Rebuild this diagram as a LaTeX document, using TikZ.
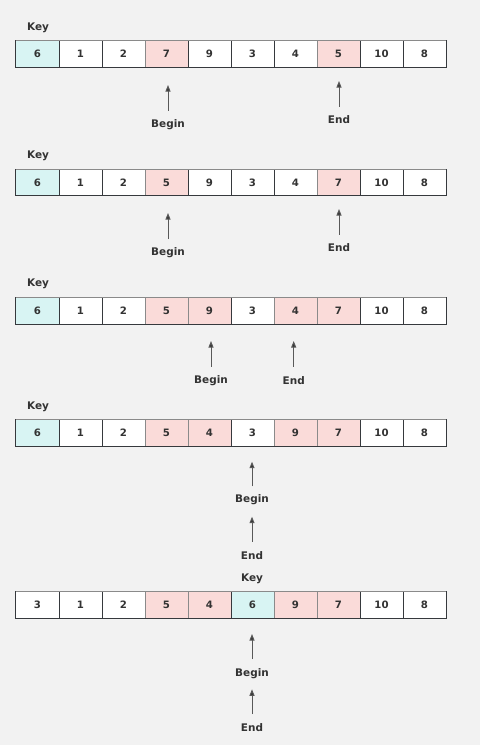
\documentclass[tikz,border=0pt]{standalone}
\usepackage{fontspec}
\setmainfont{DejaVu Sans}
\usetikzlibrary{arrows.meta}
\definecolor{bg}{HTML}{F2F2F2}
\definecolor{cyanf}{HTML}{D8F4F3}
\definecolor{pinkf}{HTML}{FADBD9}
\definecolor{ink}{HTML}{333333}
\definecolor{edge}{HTML}{36393D}
\definecolor{soft}{HTML}{8A8A8A}
\tikzset{
  cellbase/.style={minimum width=43bp,minimum height=26.7bp,inner sep=0pt,outer sep=0pt,line width=1bp,text=ink,font=\bfseries\fontsize{10.2}{12}\selectfont},
  cellw/.style={cellbase,draw=edge,fill=white},
  cellk/.style={cellbase,draw=edge,fill=cyanf},
  cellp/.style={cellbase,draw=soft,fill=pinkf},
  lbl/.style={text=ink,inner sep=0pt,font=\bfseries\fontsize{10.5}{12}\selectfont},
  ptr/.style={draw=black!65,line width=1bp,-{Triangle[length=6.5bp,width=5bp,fill=ink]}}
}
\newcommand\cellrow[3]{%
  \foreach \v/\s [count=\i from 0] in {#3} {
    \node[cell\s] (#1-\i) at ({37.5+43*\i},#2) {\v};
  }
  \draw[soft,line width=1bp] (#1-0.north west) -- (#1-9.north east);
  \draw[edge,line width=1bp] (#1-0.south west) -- (#1-9.south east);
}
\begin{document}
\begin{tikzpicture}[x=1bp,y=-1bp]
\fill[bg] (0,0) rectangle (480,745);
\useasboundingbox (0,0) rectangle (480,745);

% Row 1
\cellrow{a}{54}{6/k,1/w,2/w,7/p,9/w,3/w,4/w,5/p,10/w,8/w}
\node[lbl] (a-key) at (38,28) {Key};
\coordinate (a-bt) at (168,85); \coordinate (a-bs) at (168,110.7);
\node[lbl] (a-b) at (168,125) {Begin};
\draw[ptr] (a-bs) -- (a-bt);
\coordinate (a-et) at (339,81); \coordinate (a-es) at (339,106.7);
\node[lbl] (a-e) at (339,120) {End};
\draw[ptr] (a-es) -- (a-et);

% Row 2
\cellrow{b}{182.5}{6/k,1/w,2/w,5/p,9/w,3/w,4/w,7/p,10/w,8/w}
\node[lbl] (b-key) at (38,156) {Key};
\coordinate (b-bt) at (168,213); \coordinate (b-bs) at (168,239);
\node[lbl] (b-b) at (168,252.7) {Begin};
\draw[ptr] (b-bs) -- (b-bt);
\coordinate (b-et) at (339,209); \coordinate (b-es) at (339,234.7);
\node[lbl] (b-e) at (339,247.7) {End};
\draw[ptr] (b-es) -- (b-et);

% Row 3
\cellrow{c}{310.7}{6/k,1/w,2/w,5/p,9/p,3/w,4/p,7/p,10/w,8/w}
\node[lbl] (c-key) at (38,284.3) {Key};
\coordinate (c-bt) at (211,341); \coordinate (c-bs) at (211,366.7);
\node[lbl] (c-b) at (211,380.7) {Begin};
\draw[ptr] (c-bs) -- (c-bt);
\coordinate (c-et) at (293.7,341); \coordinate (c-es) at (293.7,366.7);
\node[lbl] (c-e) at (293.7,380.7) {End};
\draw[ptr] (c-es) -- (c-et);

% Row 4
\cellrow{d}{433}{6/k,1/w,2/w,5/p,4/p,3/w,9/p,7/p,10/w,8/w}
\node[lbl] (d-key) at (38,407.3) {Key};
\coordinate (d-bt) at (252,461.7); \coordinate (d-bs) at (252,486.3);
\node[lbl] (d-b) at (252,500) {Begin};
\draw[ptr] (d-bs) -- (d-bt);
\coordinate (d-et) at (252,516.7); \coordinate (d-es) at (252,541.7);
\node[lbl] (d-e) at (252,556) {End};
\draw[ptr] (d-es) -- (d-et);

% Row 5
\cellrow{e}{605}{3/w,1/w,2/w,5/p,4/p,6/k,9/p,7/p,10/w,8/w}
\node[lbl] (e-key) at (252,579) {Key};
\coordinate (e-bt) at (252,634); \coordinate (e-bs) at (252,659);
\node[lbl] (e-b) at (252,673.3) {Begin};
\draw[ptr] (e-bs) -- (e-bt);
\coordinate (e-et) at (252,689.3); \coordinate (e-es) at (252,714);
\node[lbl] (e-e) at (252,727.7) {End};
\draw[ptr] (e-es) -- (e-et);
\end{tikzpicture}
\end{document}
